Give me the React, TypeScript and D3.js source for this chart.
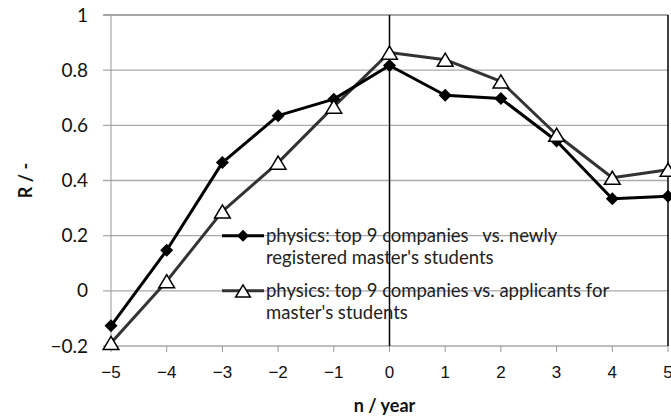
import * as d3 from 'd3';
import React from 'react';

const years = [-5, -4, -3, -2, -1, 0, 1, 2, 3, 4, 5];
const newlyRegistered = [-0.127, 0.147, 0.465, 0.635, 0.695, 0.817, 0.709, 0.697, 0.543, 0.334, 0.343];
const applicants = [-0.189, 0.035, 0.288, 0.465, 0.668, 0.864, 0.838, 0.759, 0.566, 0.41, 0.439];
const yTicks = [-0.2, 0, 0.2, 0.4, 0.6, 0.8, 1];
const legendLines1 = ["physics: top 9 companies   vs. newly", "registered master's students"];
const legendLines2 = ["physics: top 9 companies vs. applicants for", "master's students"];

function App() {
  const width = 671, height = 420;
  const left = 111, right = 668, top = 15, bottom = 346;

  const x = d3.scaleLinear().domain([-5, 5]).range([left, right]);
  const y = d3.scaleLinear().domain([-0.2, 1]).range([bottom, top]);

  const line = d3.line<number>()
    .x((d, i) => x(years[i]))
    .y(d => y(d));

  const diamond = (cx: number, cy: number, r: number) =>
    `M${cx},${cy - r}L${cx + r},${cy}L${cx},${cy + r}L${cx - r},${cy}Z`;
  const triangle = (cx: number, cy: number, r: number) =>
    `M${cx},${cy - r}L${cx + r * 1.05},${cy + r * 0.75}L${cx - r * 1.05},${cy + r * 0.75}Z`;

  const fmtY = (v: number) => (v === 0 ? "0" : v === 1 ? "1" : d3.format(".1f")(v));
  const fmtX = (v: number) => (v < 0 ? "\u2212" + Math.abs(v) : String(v));

  const legendFont = "Lato, 'Open Sans', sans-serif";
  const arial = "'Liberation Sans', Arial, sans-serif";

  return (
    <svg width={width} height={height} style={{ position: 'absolute', left: 0, top: 0, background: '#fff' }}>
      {/* gridlines */}
      {yTicks.map(t => (
        <line key={'g' + t} x1={left - 8} x2={right} y1={y(t)} y2={y(t)}
          stroke={t === 1 ? '#888' : '#aaa'} strokeWidth={1.3} />
      ))}
      {/* left axis */}
      <line x1={left} x2={left} y1={top} y2={bottom} stroke="#999" strokeWidth={1} />
      {/* x ticks */}
      {years.map(v => (
        <line key={'t' + v} x1={x(v)} x2={x(v)} y1={bottom} y2={bottom + 6} stroke="#999" strokeWidth={1} />
      ))}
      {/* vertical black lines */}
      <line x1={x(0)} x2={x(0)} y1={top} y2={bottom} stroke="#000" strokeWidth={1.5} />
      <line x1={x(5)} x2={x(5)} y1={top} y2={bottom} stroke="#000" strokeWidth={1.5} />

      {/* y tick labels */}
      {yTicks.map(t => (
        <text key={'yl' + t} x={left - 23} y={y(t)} dy="0.35em" textAnchor="end"
          fontFamily={legendFont} fontSize={19} fill="#111">{fmtY(t)}</text>
      ))}
      {/* x tick labels */}
      {years.map(v => (
        <text key={'xl' + v} x={x(v)} y={378} textAnchor="middle"
          fontFamily={arial} fontSize={17} fill="#111">{fmtX(v)}</text>
      ))}
      {/* axis titles */}
      <text x={x(0) - 5} y={412} textAnchor="middle" fontFamily={legendFont}
        fontWeight="bold" fontSize={18} fill="#111">n / year</text>
      <text transform={`translate(32,${y(0.4)}) rotate(-90)`} textAnchor="middle"
        fontFamily={legendFont} fontWeight="bold" fontSize={18} fill="#111">R / -</text>

      {/* legend */}
      <g>
        <line x1={222} x2={264} y1={y(0.2)} y2={y(0.2)} stroke="#000" strokeWidth={3} />
        <path d={diamond(243, y(0.2), 6)} fill="#000" />
        {legendLines1.map((s, i) => (
          <text key={'l1' + i} x={266} y={y(0.2) + i * 22} dy="0.35em" fontFamily={legendFont}
            fontSize={18.5} fill="#222" style={{ whiteSpace: 'pre' }}>{s}</text>
        ))}
        <line x1={222} x2={264} y1={y(0)} y2={y(0)} stroke="#333" strokeWidth={3} />
        <path d={triangle(243, y(0) + 1, 7)} fill="#fff" stroke="#000" strokeWidth={1.5} />
        {legendLines2.map((s, i) => (
          <text key={'l2' + i} x={266} y={y(0) + i * 22} dy="0.35em" fontFamily={legendFont}
            fontSize={18.5} fill="#222">{s}</text>
        ))}
      </g>

      {/* series: applicants */}
      <path d={line(applicants) || ''} fill="none" stroke="#333" strokeWidth={3} strokeLinejoin="round" />
      {/* series: newly registered */}
      <path d={line(newlyRegistered) || ''} fill="none" stroke="#000" strokeWidth={3} strokeLinejoin="round" />
      {newlyRegistered.map((v, i) => (
        <path key={'d' + i} d={diamond(x(years[i]), y(v), 6.5)} fill="#000" />
      ))}
      {applicants.map((v, i) => (
        <path key={'a' + i} d={triangle(x(years[i]), y(v) + 1, 7.5)} fill="#fff" stroke="#000" strokeWidth={1.5} />
      ))}
    </svg>
  );
}

export default App;
